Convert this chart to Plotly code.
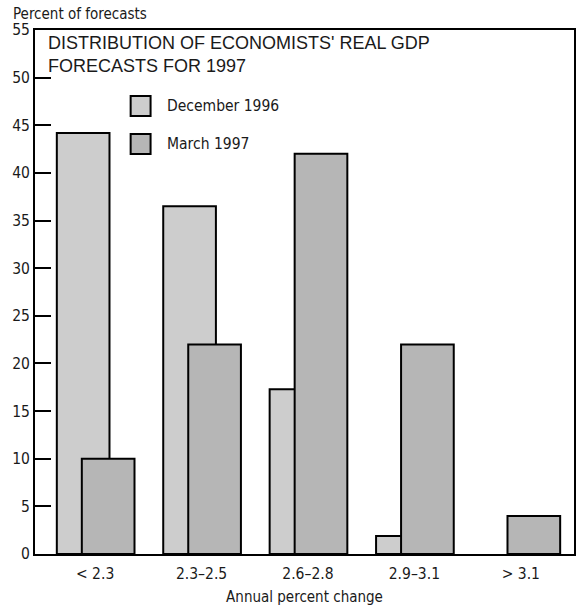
import plotly.graph_objects as go

categories = ["< 2.3", "2.3\u20132.5", "2.6\u20132.8", "2.9\u20133.1", "> 3.1"]
series_names = ["December 1996", "March 1997"]
dec_1996 = [44.2, 36.5, 17.3, 1.9, 0]
mar_1997 = [10, 22, 42, 22, 4]
y_ticks = [0, 5, 10, 15, 20, 25, 30, 35, 40, 45, 50, 55]

NARROW = "DejaVu Sans Condensed, Liberation Sans Narrow, sans-serif"
SANS = "Liberation Sans, Arial, Helvetica, sans-serif"
colors = ["#cdcdcd", "#b6b6b6"]
FS = 15

fig = go.Figure()
for vals, name, col, off in [(dec_1996, series_names[0], colors[0], -0.36),
                             (mar_1997, series_names[1], colors[1], -0.125)]:
    fig.add_trace(go.Bar(x=categories, y=vals, name=name, offset=off, width=0.495,
                         marker=dict(color=col,
                                     line=dict(color="black",
                                               width=[2 if v > 0 else 0 for v in vals]))))

W, H = 578, 610
ml, mr, mt, mb = 35, 2, 30, 56
pw, ph = W - ml - mr, H - mt - mb

def px(x):
    return (x - ml) / pw

def py(y):
    return (H - mb - y) / ph

shapes = []
annotations = []
for i, (name, col) in enumerate(zip(series_names, colors)):
    top = 96 + 38 * i
    shapes.append(dict(type="rect", xref="paper", yref="paper",
                       x0=px(131), x1=px(151), y0=py(top + 20), y1=py(top),
                       fillcolor=col, line=dict(color="black", width=2)))
    annotations.append(dict(text=name, xref="paper", yref="paper",
                            x=px(165), y=py(top + 10), xanchor="left", yanchor="middle",
                            showarrow=False, font=dict(family=NARROW, size=FS + 0.5, color="#1a1a1a")))

annotations.append(dict(text="DISTRIBUTION OF ECONOMISTS' REAL GDP<br>FORECASTS FOR 1997",
                        xref="paper", yref="paper", x=px(46), y=py(31),
                        xanchor="left", yanchor="top", align="left", showarrow=False,
                        font=dict(family=SANS, size=18, color="#1a1a1a")))
annotations.append(dict(text="Percent of forecasts", xref="paper", yref="paper",
                        x=px(11), y=py(3), xanchor="left", yanchor="top",
                        showarrow=False, font=dict(family=NARROW, size=FS, color="#1a1a1a")))

fig.update_layout(
    width=W, height=H,
    margin=dict(l=ml, r=mr, t=mt, b=mb),
    barmode="overlay",
    showlegend=False,
    plot_bgcolor="white", paper_bgcolor="white",
    shapes=shapes, annotations=annotations,
    xaxis=dict(type="category", range=[-0.565, 4.5],
               showline=True, linecolor="black", linewidth=2, mirror=True,
               showgrid=False, zeroline=False, ticks="", ticklabelstandoff=4,
               tickfont=dict(family=NARROW, size=FS + 0.5, color="#1a1a1a"),
               title=dict(text="Annual percent change", standoff=10,
                          font=dict(family=NARROW, size=FS, color="#1a1a1a"))),
    yaxis=dict(range=[0, 55], tickvals=y_ticks,
               showline=True, linecolor="black", linewidth=2, mirror=True,
               showgrid=False, zeroline=False, ticks="inside", ticklen=16,
               tickwidth=2, tickcolor="black",
               tickfont=dict(family=NARROW, size=FS + 0.5, color="#1a1a1a")),
)

fig.write_html("out.html", config={"displayModeBar": False},
               post_script="document.body.style.margin='0';document.body.style.overflow='hidden';")
